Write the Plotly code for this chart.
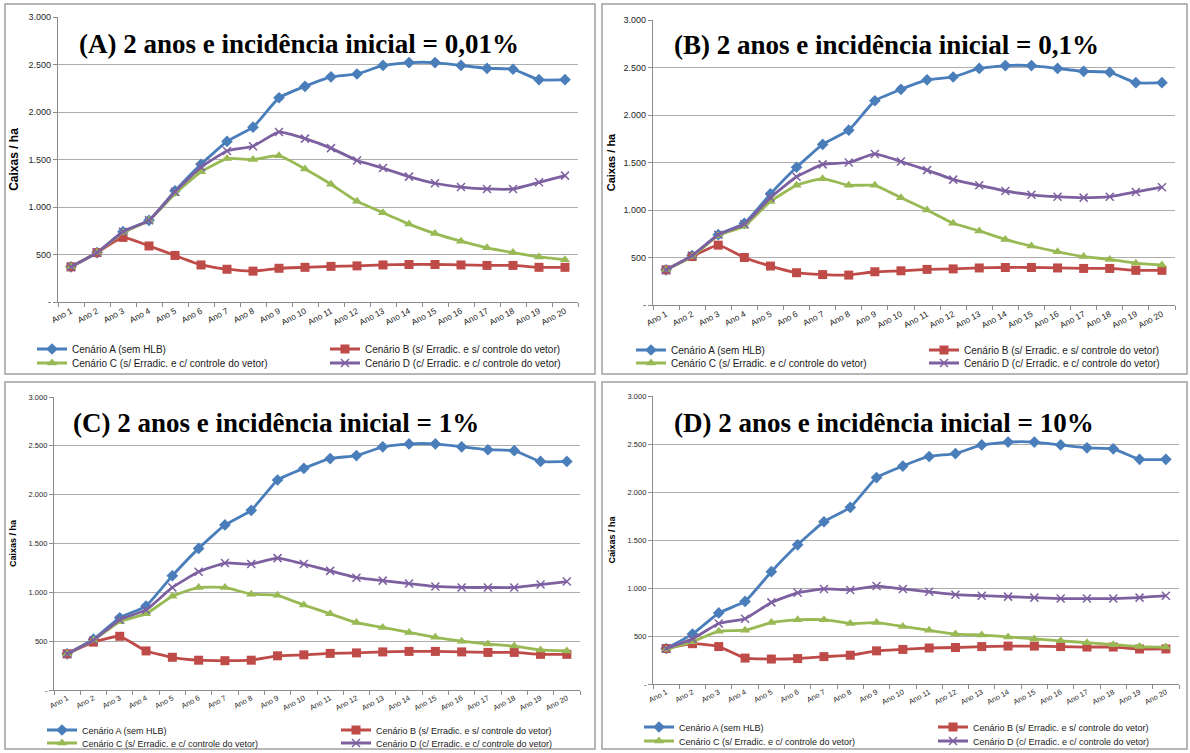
import plotly.graph_objects as go

W, H = 1190, 753

anos = [f"Ano {i}" for i in range(1, 21)]
y_tickvals = [0, 500, 1000, 1500, 2000, 2500, 3000]
y_ticktext = ["-", "500", "1.000", "1.500", "2.000", "2.500", "3.000"]

serie_nomes = [
    "Cenário A (sem HLB)",
    "Cenário B (s/ Erradic. e s/ controle do vetor)",
    "Cenário C (s/ Erradic. e c/ controle do vetor)",
    "Cenário D (c/ Erradic. e c/ controle do vetor)",
]

# Cenário A (igual nos quatro painéis)
cen_a = [370, 520, 740, 860, 1170, 1450, 1690, 1840, 2150, 2270,
         2370, 2400, 2490, 2520, 2520, 2490, 2460, 2450, 2340, 2340]

# Painel A: incidência 0,01%
pa_b = [370, 520, 680, 590, 490, 390, 345, 325, 355, 365,
        375, 380, 390, 395, 395, 390, 385, 385, 365, 365]
pa_c = [370, 520, 730, 860, 1140, 1370, 1510, 1500, 1540, 1400,
        1240, 1060, 940, 820, 720, 640, 570, 520, 475, 445]
pa_d = [370, 520, 740, 860, 1160, 1420, 1590, 1640, 1790, 1720,
        1620, 1490, 1410, 1320, 1250, 1210, 1190, 1190, 1260, 1330]

# Painel B: incidência 0,1%
pb_b = [370, 510, 630, 500, 410, 340, 320, 315, 350, 360,
        375, 380, 390, 395, 395, 390, 385, 385, 365, 365]
pb_c = [370, 510, 730, 830, 1090, 1260, 1330, 1260, 1260, 1130,
        1000, 860, 780, 690, 620, 560, 510, 480, 440, 420]
pb_d = [370, 520, 740, 850, 1130, 1350, 1480, 1500, 1590, 1510,
        1420, 1320, 1260, 1200, 1160, 1140, 1130, 1140, 1190, 1240]

# Painel C: incidência 1%
pc_b = [370, 490, 550, 400, 335, 305, 300, 305, 350, 360,
        375, 380, 390, 395, 395, 390, 385, 385, 365, 365]
pc_c = [370, 510, 700, 780, 960, 1050, 1050, 980, 970, 870,
        780, 690, 640, 590, 540, 500, 470, 450, 410, 400]
pc_d = [370, 510, 720, 820, 1050, 1210, 1300, 1290, 1350, 1290,
        1220, 1150, 1120, 1090, 1060, 1050, 1050, 1050, 1080, 1110]

# Painel D: incidência 10%
pd_b = [370, 420, 390, 270, 260, 265, 285, 300, 345, 360,
        375, 380, 390, 395, 395, 390, 385, 385, 365, 365]
pd_c = [360, 440, 550, 560, 640, 670, 670, 630, 640, 600,
        560, 520, 510, 490, 470, 450, 430, 410, 390, 385]
pd_d = [370, 470, 630, 680, 850, 950, 990, 980, 1020, 990,
        960, 930, 920, 910, 900, 890, 890, 890, 900, 920]

titulos = [
    "(A) 2 anos e incidência inicial = 0,01%",
    "(B) 2 anos e incidência inicial = 0,1%",
    "(C) 2 anos e incidência inicial = 1%",
    "(D) 2 anos e incidência inicial = 10%",
]

dados = [
    [cen_a, pa_b, pa_c, pa_d],
    [cen_a, pb_b, pb_c, pb_d],
    [cen_a, pc_b, pc_c, pc_d],
    [cen_a, pd_b, pd_c, pd_d],
]

cores = ["#4A7EBB", "#BE4B48", "#98B954", "#7D60A0"]
simbolos = ["diamond", "square", "triangle-up", "x-thin"]
tamanhos = [9, 9, 9, 8]

# layout per panel (pixel positions); leg_x = start of legend text
paineis = [
    dict(x0=58, x1=578, ytop=17, ybot=302, box=(5, 4, 595, 374),
         tx=77, ty=44, leg_x=(72, 365), leg_y=(349, 363),
         tick_fs=9, xtick_fs=8.5, leg_fs=10, ytitle_fs=12, standoff=7),
    dict(x0=653, x1=1175, ytop=20, ybot=305, box=(602, 4, 1187, 374),
         tx=672, ty=45, leg_x=(671, 964), leg_y=(350, 363),
         tick_fs=9, xtick_fs=8.5, leg_fs=10, ytitle_fs=11, standoff=5),
    dict(x0=54, x1=580, ytop=397, ybot=690, box=(5, 382, 595, 749),
         tx=71, ty=423, leg_x=(82, 376), leg_y=(730, 743),
         tick_fs=7.5, xtick_fs=7.5, leg_fs=9, ytitle_fs=9, standoff=10),
    dict(x0=653, x1=1179, ytop=396, ybot=684, box=(602, 382, 1187, 749),
         tx=672, ty=423, leg_x=(679, 973), leg_y=(727, 741),
         tick_fs=7.5, xtick_fs=7.5, leg_fs=9, ytitle_fs=9, standoff=10),
]

def px(x):
    return x / W

def py(y):
    return 1 - y / H

narrow = "Liberation Sans Narrow, Liberation Sans, Arial, sans-serif"

fig = go.Figure()
layout = dict(
    width=W, height=H, margin=dict(l=0, r=0, t=0, b=0, autoexpand=False),
    paper_bgcolor="white", plot_bgcolor="white",
    showlegend=True, shapes=[], annotations=[],
)

leg_count = 0
for i, (p, series) in enumerate(zip(paineis, dados)):
    k = "" if i == 0 else str(i + 1)
    xa, ya = "x" + k, "y" + k
    layout["xaxis" + k] = dict(
        domain=[px(p["x0"]), px(p["x1"])], anchor=ya, automargin=False,
        type="category", categoryorder="array", categoryarray=anos,
        tickson="boundaries", ticks="outside", ticklen=4, tickcolor="#8C8C8C",
        showline=True, linecolor="#8C8C8C", linewidth=1.2,
        showgrid=False, tickangle=-28,
        tickfont=dict(family=narrow, size=p["xtick_fs"], color="#262626"),
        range=[-0.5, 19.5], fixedrange=True,
    )
    layout["yaxis" + k] = dict(
        domain=[py(p["ybot"]), py(p["ytop"])], anchor=xa, automargin=False,
        range=[0, 3000], tickvals=y_tickvals, ticktext=y_ticktext,
        ticks="outside", ticklen=4, tickcolor="#8C8C8C",
        showline=True, linecolor="#8C8C8C", linewidth=1.2,
        showgrid=True, gridcolor="#ADADAD", gridwidth=1.2, zeroline=False,
        tickfont=dict(family=narrow, size=p["tick_fs"], color="#262626"),
        title=dict(text="Caixas / ha", standoff=p["standoff"],
                   font=dict(family="Liberation Sans, Arial, sans-serif",
                             size=p["ytitle_fs"], color="black",
                             weight="bold")),
        fixedrange=True,
    )
    for j, vals in enumerate(series):
        leg_count += 1
        lk = "legend" if leg_count == 1 else f"legend{leg_count}"
        col = j % 2
        row = j // 2
        layout[lk] = dict(
            x=px(p["leg_x"][col] - 40), y=py(p["leg_y"][row]),
            xanchor="left", yanchor="middle",
            bgcolor="rgba(0,0,0,0)", borderwidth=0,
            itemwidth=30, tracegroupgap=0,
            font=dict(family=narrow, size=p["leg_fs"], color="#1a1a1a"),
        )
        mk = dict(symbol=simbolos[j], size=tamanhos[j], color=cores[j])
        if simbolos[j] == "x-thin":
            mk["line"] = dict(width=1.5, color=cores[j])
        fig.add_trace(go.Scatter(
            x=anos, y=vals, name=serie_nomes[j], mode="lines+markers",
            xaxis=xa, yaxis=ya, legend=lk,
            line=dict(color=cores[j], width=2.8, shape="spline", smoothing=0.4),
            marker=mk, cliponaxis=False,
        ))
    b = p["box"]
    layout["shapes"].append(dict(
        type="rect", xref="paper", yref="paper",
        x0=px(b[0]), x1=px(b[2]), y0=py(b[3]), y1=py(b[1]),
        line=dict(color="#A0A0A0", width=1.5), fillcolor="rgba(0,0,0,0)",
        layer="below",
    ))
    layout["annotations"].append(dict(
        text=titulos[i], xref="paper", yref="paper",
        x=px(p["tx"]), y=py(p["ty"]), xanchor="left", yanchor="middle",
        showarrow=False,
        font=dict(family="Liberation Serif, Times New Roman, serif",
                  size=27, color="black", weight="bold"),
    ))

fig.update_layout(**layout)
fig.write_html(
    "out.html",
    config={"displayModeBar": False},
    post_script="document.body.style.margin='0px';document.body.style.overflow='hidden';",
)
